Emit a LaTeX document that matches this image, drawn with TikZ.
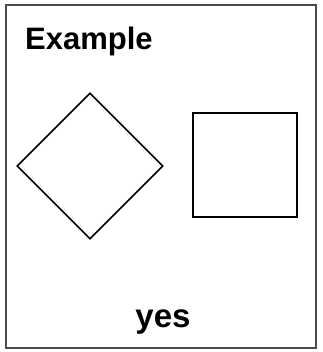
\documentclass[tikz,border=0pt]{standalone}
\usepackage{fontspec}
\setmainfont{Liberation Sans}
\usetikzlibrary{shapes.geometric}

\begin{document}
\begin{tikzpicture}[x=1pt, y=-1pt,
  frame/.style={draw=black!70, line width=1.2pt, rectangle, minimum width=310pt, minimum height=343pt, inner sep=0pt},
  dia/.style={draw, diamond, minimum width=146pt, minimum height=146pt, inner sep=0pt, line width=1.6pt},
  sq/.style={draw, rectangle, minimum width=104pt, minimum height=104pt, inner sep=0pt, line width=1.6pt},
  lbl/.style={font=\bfseries\fontsize{31}{31}\selectfont, inner sep=0pt}
]
  \useasboundingbox (0,0) rectangle (322,352);
  \node[frame] (box) at (161,176.5) {};
  \node[lbl, anchor=base west] (title) at (25,50) {Example};
  \node[dia] (d) at (90,166) {};
  \node[sq] (s) at (245,165) {};
  \node[lbl, anchor=base, font=\bfseries\fontsize{33}{33}\selectfont] (ans) at (163,327) {yes};
\end{tikzpicture}
\end{document}
